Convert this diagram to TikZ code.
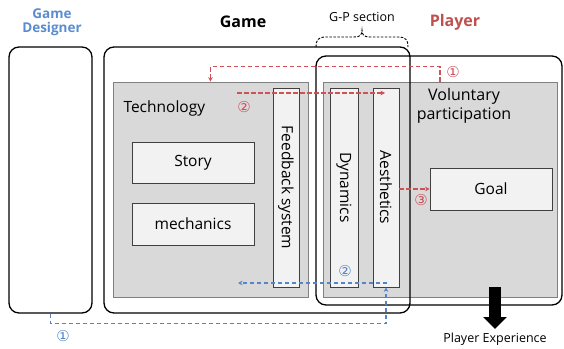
\documentclass[tikz,border=0pt]{standalone}
\usepackage{fontspec}
\setmainfont{Open Sans}
\newfontfamily\symfont{DejaVu Sans}
\usetikzlibrary{arrows.meta}
\definecolor{gfill}{HTML}{D9D9D9}
\definecolor{lfill}{HTML}{F2F2F2}
\definecolor{bcol}{HTML}{808080}
\definecolor{myred}{HTML}{D0505A}
\definecolor{myblue}{HTML}{5585C8}
\definecolor{dblue}{HTML}{5B8BD0}
\definecolor{dred}{HTML}{C0504D}
\tikzset{
  outerbox/.style={draw=black, line width=1.3pt, rounded corners=10pt, minimum width=#1},
  graybox/.style={draw=bcol, fill=gfill, line width=0.9pt},
  lightbox/.style={draw=black!75, fill=lfill, line width=0.8pt},
  reddash/.style={draw=myred, line width=1.1pt, dash pattern=on 4.5pt off 2.5pt, -{Stealth[length=4.5pt,width=4.5pt]}},
  bluedash/.style={draw=myblue, line width=1.1pt, dash pattern=on 4.5pt off 2.5pt, -{Stealth[length=4.5pt,width=4.5pt]}},
  lbl/.style={font=\fontsize{15.5}{18}\selectfont},
  num/.style={font=\symfont\fontsize{15}{16}\selectfont, inner sep=0pt},
}
\begin{document}
\begin{tikzpicture}[x=1pt,y=-1pt]
\useasboundingbox (0,0) rectangle (564,348);
% gray panels
\node[graybox, minimum width=195, minimum height=215] (tech) at (210.5,189.5) {};
\node[graybox, minimum width=234, minimum height=215] (pgray) at (440,189.5) {};
% light boxes
\node[lightbox, minimum width=26, minimum height=199] (fb) at (286,187.5) {};
\node[lightbox, minimum width=28, minimum height=199] (dyn) at (344,187.5) {};
\node[lightbox, minimum width=26, minimum height=199] (aes) at (386,187.5) {};
\node[lightbox, minimum width=122, minimum height=41, lbl] (story) at (193,162.5) {Story};
\node[lightbox, minimum width=122, minimum height=42, lbl] (mech) at (193,224) {mechanics};
\node[lightbox, minimum width=122, minimum height=42, lbl] (goal) at (491,189) {Goal};
\node[lbl, rotate=-90] (fbt) at (fb.center) {Feedback system};
\node[lbl, rotate=-90] (dynt) at (dyn.center) {Dynamics};
\node[lbl, rotate=-90] (aest) at (aes.center) {Aesthetics};
\node[lbl, anchor=west] (techt) at (120,108) {Technology};
\node[font=\fontsize{16}{19}\selectfont, align=center, inner sep=0pt] (volt) at (464,106) {Voluntary\\participation};
% outer boxes
\node[outerbox=83, minimum height=266] (gd) at (50.5,180) {};
\node[outerbox=306, minimum height=266] (game) at (257,180) {};
\node[outerbox=246, minimum height=249] (player) at (439,180.5) {};
% titles
\node[font=\fontsize{13.5}{15}\selectfont\bfseries, text=dblue, align=center] (gdt) at (52,22) {Game\\[-1pt]Designer};
\node[font=\fontsize{16}{18}\selectfont\bfseries] (gamet) at (243,22) {Game};
\node[font=\fontsize{16}{18}\selectfont\bfseries, text=dred] (playert) at (455,22) {Player};
\node[font=\fontsize{12.5}{14}\selectfont] (gpt) at (362,17) {G-P section};
% brace
\coordinate (brL) at (316,47);
\coordinate (brR) at (408,47);
\draw[line width=0.9pt, dash pattern=on 2.5pt off 1.5pt]
  (brL) .. controls (316,40) and (318,37) .. (326,37) -- (354,37)
  .. controls (360,37) and (362,35) .. (362,30)
  .. controls (362,35) and (364,37) .. (370,37) -- (398,37)
  .. controls (406,37) and (408,40) .. (brR);
% red connectors
\draw[reddash] (pgray.north) -- ++(0,-15) -| (tech.north);
\node[num, text=myred] (r1) at (453,72) {①};
\coordinate (r2s) at (237,93);
\coordinate (r2e) at (385,93);
\draw[reddash] (r2s) -- (r2e);
\node[num, text=myred] (r2) at (244,107) {②};
\draw[reddash] (aes.east |- goal.west) -- (goal.west);
\node[num, text=myred] (r3) at (421,200) {③};
% blue connectors
\draw[bluedash] (gd.south) -- ++(0,10) -| (aes.south);
\node[num, text=myblue] (b1) at (63,336) {①};
\coordinate (b2s) at (387,283);
\coordinate (b2e) at (238,283);
\draw[bluedash] (b2s) -- (b2e);
\node[num, text=myblue] (b2) at (345,271) {②};
% player experience
\node[font=\fontsize{12.5}{14}\selectfont] (pe) at (495,339) {Player Experience};
\coordinate (pes) at (495,287);
\coordinate (pee) at (495,329);
\draw[line width=11.5pt, -{Triangle[length=12pt,width=23pt]}] (pes) -- (pee);
\end{tikzpicture}
\end{document}
